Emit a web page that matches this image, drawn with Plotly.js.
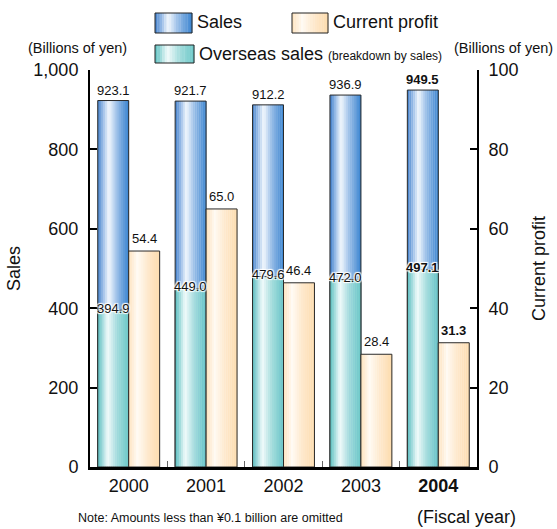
<!DOCTYPE html>
<html><head><meta charset="utf-8">
<script src="https://cdn.plot.ly/plotly-3.0.1.min.js"></script>
<style>html,body{margin:0;padding:0;background:#fff}</style>
</head><body>
<div id="chart" style="width:557px;height:529px"></div>
<script>
// ---- data ----
const years = ['2000', '2001', '2002', '2003', '2004'];
const yearLabels = ['2000', '2001', '2002', '2003', '<b>2004</b>'];
const sales = [923.1, 921.7, 912.2, 936.9, 949.5];
const overseas = [394.9, 449.0, 479.6, 472.0, 497.1];
const profit = [54.4, 65.0, 46.4, 28.4, 31.3];
const salesTicks = [0, 200, 400, 600, 800, 1000];
const profitTicks = [0, 20, 40, 60, 80, 100];
const boldIndex = 4;

// ---- styling ----
const FONT = 'Liberation Sans, Arial, Helvetica, sans-serif';
const salesGrad = [[0, '#3f7dc8'], [0.15, '#8cb3e3'], [0.36, '#f2f7fd'], [0.62, '#98bde7'], [1, '#3a84d0']];
const overGrad = [[0, '#5bbfbf'], [0.14, '#9ad9d9'], [0.32, '#f2fbfb'], [0.62, '#a6dddd'], [1, '#6cc8c8']];
const profGrad = [[0, '#fde2bd'], [0.28, '#fffaf3'], [0.6, '#fee9cd'], [1, '#fddcad']];
const N = 16;
const BW = 0.4;

function hex2rgb(h) { return [1, 3, 5].map(i => parseInt(h.substr(i, 2), 16)); }
function gradAt(stops, t) {
  for (let i = 0; i < stops.length - 1; i++) {
    const [t0, c0] = stops[i], [t1, c1] = stops[i + 1];
    if (t >= t0 && t <= t1) {
      const f = (t - t0) / (t1 - t0), a = hex2rgb(c0), b = hex2rgb(c1);
      return 'rgb(' + a.map((v, k) => Math.round(v + (b[k] - v) * f)).join(',') + ')';
    }
  }
  return stops[stops.length - 1][1];
}

const traces = [];
function addSeries(values, grad, off, yaxis, name) {
  for (let k = 0; k < N; k++) {
    traces.push({
      type: 'bar', x: years, y: values, yaxis: yaxis,
      offset: off + k * BW / N, width: BW / N + 0.003,
      marker: { color: gradAt(grad, (k + 0.5) / N), line: { width: 0 } },
      showlegend: false, hoverinfo: 'skip', name: name
    });
  }
  traces.push({
    type: 'bar', x: years, y: values, yaxis: yaxis, offset: off, width: BW,
    marker: { color: 'rgba(0,0,0,0)', line: { color: '#2a2a2a', width: 1 } },
    showlegend: false, name: name
  });
}
addSeries(sales, salesGrad, -BW, 'y', 'Sales');
addSeries(overseas, overGrad, -BW, 'y', 'Overseas sales');
addSeries(profit, profGrad, 0, 'y2', 'Current profit');

// ---- data labels ----
const annotations = [];
const fmt = v => v.toFixed(1);
const lbl = (v, i) => i === boldIndex ? '<b>' + fmt(v) + '</b>' : fmt(v);
const halo = '1px 1px 1px #fff, -1px -1px 1px #fff, 1px -1px 1px #fff, -1px 1px 1px #fff';
sales.forEach((v, i) => annotations.push({
  x: i - BW / 2, y: v, xref: 'x', yref: 'y', text: lbl(v, i), showarrow: false,
  yanchor: 'bottom', yshift: 1, font: { family: FONT, size: 13, color: '#111' }
}));
overseas.forEach((v, i) => annotations.push({
  x: i - BW / 2, y: v, xref: 'x', yref: 'y', text: lbl(v, i), showarrow: false,
  yanchor: 'middle', yshift: 2, font: { family: FONT, size: 13, color: '#111', shadow: halo }
}));
profit.forEach((v, i) => annotations.push({
  x: i + BW / 2, y: v, xref: 'x', yref: 'y2', text: lbl(v, i), showarrow: false,
  yanchor: 'bottom', yshift: 3, font: { family: FONT, size: 13, color: '#111' }
}));

// ---- legend / decorations (pixel -> paper) ----
const PL = 90, PR = 477, PT = 70, PB = 467;
const px = x => (x - PL) / (PR - PL);
const py = y => (PB - y) / (PB - PT);
const shapes = [];
function legendBox(x0, y0, w, h, grad) {
  for (let k = 0; k < N; k++) {
    shapes.push({ type: 'rect', xref: 'paper', yref: 'paper',
      x0: px(x0 + k * w / N), x1: px(x0 + (k + 1) * w / N + 0.3), y0: py(y0 + h), y1: py(y0),
      fillcolor: gradAt(grad, (k + 0.5) / N), line: { width: 0 } });
  }
  shapes.push({ type: 'rect', xref: 'paper', yref: 'paper', x0: px(x0), x1: px(x0 + w),
    y0: py(y0 + h), y1: py(y0), fillcolor: 'rgba(0,0,0,0)', line: { color: '#222', width: 1 } });
}
legendBox(155, 13, 37, 20, salesGrad);
legendBox(292, 13, 36, 20, profGrad);
legendBox(155, 45, 39, 18, overGrad);

const textAnn = (x, y, text, size, xanchor) => ({
  xref: 'paper', yref: 'paper', x: px(x), y: py(y), text: text, showarrow: false,
  xanchor: xanchor, yanchor: 'middle', font: { family: FONT, size: size, color: '#111' }
});
annotations.push(textAnn(195, 22, 'Sales', 18, 'left'));
annotations.push(textAnn(331, 22, 'Current profit', 18, 'left'));
annotations.push(textAnn(197, 54, 'Overseas sales <span style="font-size:12px">(breakdown by sales)</span>', 18, 'left'));
annotations.push(textAnn(77, 48, '(Billions of yen)', 14.5, 'center'));
annotations.push(textAnn(504, 48, '(Billions of yen)', 14.5, 'center'));
annotations.push(textAnn(466, 517, '(Fiscal year)', 18, 'center'));
annotations.push(textAnn(210, 518, 'Note: Amounts less than ¥0.1 billion are omitted', 12.5, 'center'));

const layout = {
  width: 557, height: 529,
  margin: { l: PL, r: 557 - PR, t: PT, b: 529 - PB, pad: 0 },
  paper_bgcolor: '#fff', plot_bgcolor: '#fff',
  barmode: 'overlay', showlegend: false,
  font: { family: FONT, size: 18, color: '#111' },
  xaxis: {
    type: 'category', categoryarray: years, range: [-0.5, 4.5],
    tickvals: years, ticktext: yearLabels,
    showline: true, linecolor: '#000', linewidth: 3,
    ticks: 'inside', tickson: 'boundaries', ticklen: 6, tickwidth: 1, tickcolor: '#666',
    showgrid: false, zeroline: false, tickfont: { size: 18 }
  },
  yaxis: {
    range: [0, 1000], tickvals: salesTicks, tickformat: ',',
    showline: true, linecolor: '#000', linewidth: 2,
    ticks: 'inside', ticklen: 7, tickwidth: 2, tickcolor: '#000',
    showgrid: false, zeroline: false, tickfont: { size: 18 }, ticklabelstandoff: 6,
    title: { text: 'Sales', font: { size: 18 }, standoff: 8 }
  },
  yaxis2: {
    range: [0, 100], tickvals: profitTicks, overlaying: 'y', side: 'right',
    showline: true, linecolor: '#000', linewidth: 2,
    ticks: 'inside', ticklen: 7, tickwidth: 2, tickcolor: '#000',
    showgrid: false, zeroline: false, tickfont: { size: 18 }, ticklabelstandoff: 6,
    title: { text: 'Current profit', font: { size: 18 }, standoff: 15 }
  },
  annotations: annotations,
  shapes: shapes
};
Plotly.newPlot('chart', traces, layout, { displayModeBar: false, staticPlot: true });
</script>
</body></html>
